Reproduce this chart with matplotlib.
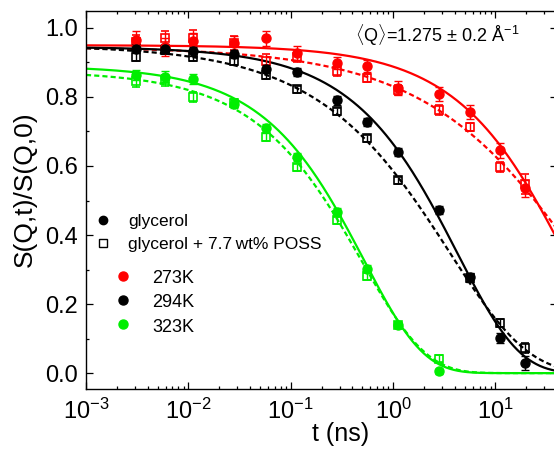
import numpy as np
import matplotlib
matplotlib.use('Agg')
import matplotlib.pyplot as plt
from matplotlib.ticker import LogLocator, MultipleLocator, LogFormatterSciNotation, NullFormatter

plt.rcParams['font.family'] = ['Liberation Sans', 'DejaVu Sans']
plt.rcParams['mathtext.fontset'] = 'custom'
plt.rcParams['mathtext.rm'] = 'Liberation Sans'
plt.rcParams['mathtext.it'] = 'Liberation Sans:italic'
plt.rcParams['mathtext.bf'] = 'Liberation Sans:bold'

# ---------------- data ----------------
t_ns = [0.0031, 0.0059, 0.0112, 0.028, 0.057, 0.115, 0.284, 0.557, 1.13, 2.82, 5.6, 11.2, 19.5]

gly_273 = [0.965, 0.945, 0.962, 0.955, 0.970, 0.928, 0.898, 0.890, 0.827, 0.808, 0.757, 0.646, 0.535]
gly_273_err = [0.025, 0.025, 0.022, 0.022, 0.022, 0.020, 0.018, 0.018, 0.020, 0.020, 0.020, 0.022, 0.025]
poss_273 = [0.960, 0.970, 0.972, 0.956, 0.905, 0.916, 0.875, 0.855, 0.820, 0.762, 0.712, 0.598, 0.548]
poss_273_err = [0.020, 0.020, 0.022, 0.020, 0.020, 0.015, 0.015, 0.012, 0.015, 0.015, 0.012, 0.015, 0.030]

gly_294 = [0.940, 0.940, 0.932, 0.925, 0.880, 0.873, 0.790, 0.727, 0.640, 0.472, 0.277, 0.101, 0.029]
gly_294_err = [0.012, 0.012, 0.012, 0.012, 0.012, 0.012, 0.012, 0.012, 0.012, 0.012, 0.012, 0.015, 0.020]
poss_294 = [0.917, 0.935, 0.917, 0.905, 0.865, 0.822, 0.759, 0.680, 0.559, np.nan, 0.275, 0.145, 0.072]
poss_294_err = [0.012, 0.012, 0.012, 0.012, 0.012, 0.010, 0.010, 0.010, 0.010, 0.0, 0.012, 0.012, 0.015]

gly_323 = [0.864, 0.859, 0.852, 0.780, 0.709, 0.626, 0.467, 0.303, 0.138, 0.005, np.nan, np.nan, np.nan]
gly_323_err = [0.015, 0.015, 0.015, 0.012, 0.012, 0.012, 0.012, 0.010, 0.008, 0.008, 0.0, 0.0, 0.0]
poss_323 = [0.845, 0.848, 0.800, 0.782, 0.685, 0.596, 0.443, 0.280, 0.139, 0.042, np.nan, np.nan, np.nan]
poss_323_err = [0.015, 0.015, 0.015, 0.012, 0.012, 0.010, 0.010, 0.010, 0.008, 0.010, 0.0, 0.0, 0.0]

# stretched-exponential fit parameters: amplitude, tau (ns), beta
fit_gly_273 = (0.950, 47.0, 0.70)
fit_poss_273 = (0.945, 60.0, 0.50)
fit_gly_294 = (0.945, 4.25, 0.72)
fit_poss_294 = (0.950, 3.58, 0.57)
fit_gly_323 = (0.890, 0.52, 0.75)
fit_poss_323 = (0.875, 0.50, 0.70)

temps = ['273K', '294K', '323K']
colors = ['#ff0000', '#000000', '#00ee00']

series = [
    (gly_273, gly_273_err, poss_273, poss_273_err, fit_gly_273, fit_poss_273),
    (gly_294, gly_294_err, poss_294, poss_294_err, fit_gly_294, fit_poss_294),
    (gly_323, gly_323_err, poss_323, poss_323_err, fit_gly_323, fit_poss_323),
]

def kww(t, f, tau, beta):
    return f * np.exp(-(t / tau) ** beta)

# ---------------- figure ----------------
W, H = 554, 450
fig = plt.figure(figsize=(W / 100, H / 100), dpi=100)
ax = fig.add_axes([86 / W, 61 / H, 471 / W, 378 / H])

t_fit = np.logspace(-3, np.log10(40), 500)
t_arr = np.array(t_ns)

for (g, ge, p, pe, fg, fp), c in zip(series, colors):
    ax.plot(t_fit, kww(t_fit, *fg), color=c, lw=1.6, zorder=2)
    ax.plot(t_fit, kww(t_fit, *fp), color=c, lw=1.6, ls=(0, (2.3, 1.4)), zorder=2)
    ax.errorbar(t_arr, p, yerr=pe, fmt='s', ms=6, mfc='none', mec=c, mew=1.2,
                ecolor=c, elinewidth=1.0, capsize=3, capthick=1.0, zorder=3)
    ax.errorbar(t_arr, g, yerr=ge, fmt='o', ms=6.5, mfc=c, mec=c,
                ecolor=c, elinewidth=1.0, capsize=3, capthick=1.0, zorder=4)

ax.set_xscale('log')
ax.set_xlim(1e-3, 40)
ax.set_ylim(-0.046, 1.049)

ax.xaxis.set_major_locator(LogLocator(base=10, numticks=10))
ax.xaxis.set_minor_locator(LogLocator(base=10, subs=np.arange(2, 10), numticks=50))
ax.xaxis.set_major_formatter(LogFormatterSciNotation())
ax.xaxis.set_minor_formatter(NullFormatter())
ax.yaxis.set_major_locator(MultipleLocator(0.2))
ax.yaxis.set_minor_locator(MultipleLocator(0.1))
ax.yaxis.set_major_formatter(plt.FuncFormatter(lambda v, p: f'{v:.1f}'))

ax.tick_params(which='both', direction='in', top=True, right=True, labelsize=17)
ax.tick_params(which='major', length=5, width=0.9)
ax.tick_params(which='minor', length=2.5, width=0.9)
ax.tick_params(axis='y', pad=6)
ax.tick_params(axis='x', pad=7)
for s in ax.spines.values():
    s.set_linewidth(1.0)

ax.set_xlabel('t (ns)', fontsize=18)
ax.xaxis.set_label_coords((341 - 86) / 471, -0.087)
ax.set_ylabel('S(Q,t)/S(Q,0)', fontsize=19)
ax.yaxis.set_label_coords((37 - 86) / 471, 0.529)

ax.text((355 - 86) / 471, (389 - 35) / 378,
        r'$\langle$Q$\rangle$=1.275 $\pm$ 0.2 Å$^{-1}$',
        transform=ax.transAxes, fontsize=13, ha='left', va='center')

# legend (sample type)
def ax_xy(px, py):
    return (px - 86) / 471, (389 - py) / 378

x, y = ax_xy(103, 220)
ax.plot([x], [y], 'o', color='black', ms=6, transform=ax.transAxes, clip_on=False)
x, y = ax_xy(128, 226)
ax.text(x, y, 'glycerol', transform=ax.transAxes, fontsize=12.5, va='baseline')
x, y = ax_xy(103, 243)
ax.plot([x], [y], 's', mfc='none', mec='black', mew=1.0, ms=5.5, transform=ax.transAxes, clip_on=False)
x, y = ax_xy(128, 249)
ax.text(x, y, 'glycerol + 7.7\u2009wt% POSS', transform=ax.transAxes, fontsize=12.5, va='baseline')

# legend (temperature)
for i, (lab, c) in enumerate(zip(temps, colors)):
    x, y = ax_xy(123, 276 + 24 * i)
    ax.plot([x], [y], 'o', color=c, ms=6.5, transform=ax.transAxes, clip_on=False)
    x, y = ax_xy(152, 283 + 24.3 * i)
    ax.text(x, y, lab, transform=ax.transAxes, fontsize=13, va='baseline')

fig.savefig('out.png', dpi=100)
